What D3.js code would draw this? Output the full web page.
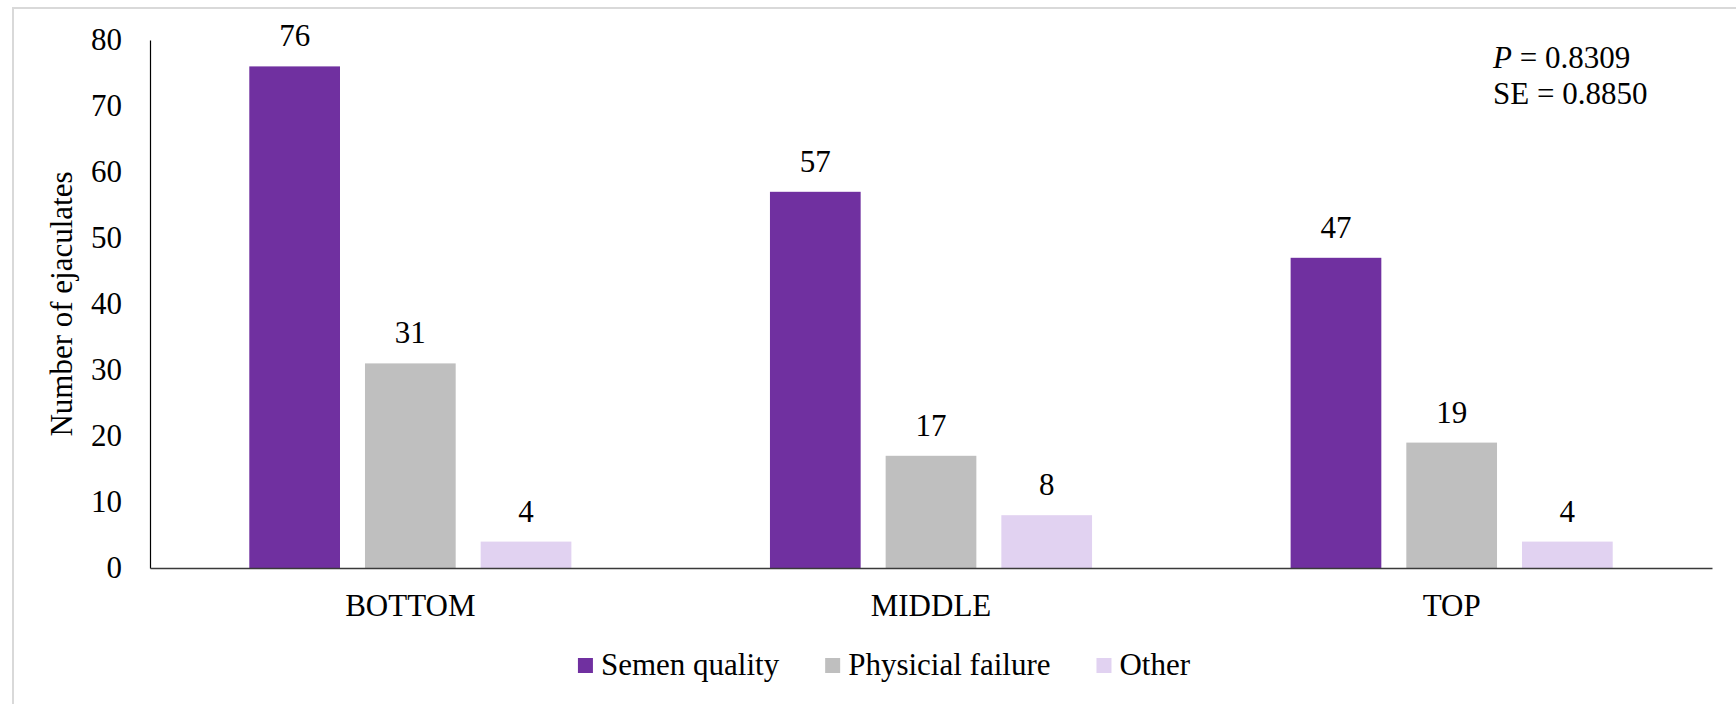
<!DOCTYPE html>
<html>
<head>
<meta charset="utf-8">
<script src="https://cdn.jsdelivr.net/npm/d3@7"></script>
<style>
  html, body { margin: 0; padding: 0; background: #fff; }
  svg { display: block; font-family: "Liberation Serif", "Times New Roman", serif; }
</style>
</head>
<body>
<svg id="chart" width="1736" height="704"></svg>
<script>
// Ejaculate counts by position and cause
const categories = ["BOTTOM", "MIDDLE", "TOP"];
const seriesNames = ["Semen quality", "Physicial failure", "Other"];
const semenQuality = [76, 57, 47];
const physicalFailure = [31, 17, 19];
const other = [4, 8, 4];
const yTicks = [0, 10, 20, 30, 40, 50, 60, 70, 80];
const colors = ["#7030A0", "#BFBFBF", "#E1D2F1"];

const seriesValues = [semenQuality, physicalFailure, other];

const svg = d3.select("#chart");
const m = { left: 150, right: 1712, top: 40, bottom: 568 };
const fontSize = 31;
const serif = "Liberation Serif, Times New Roman, serif";

// Outer chart frame
svg.append("rect")
  .attr("x", 13).attr("y", 8)
  .attr("width", 1742).attr("height", 720)
  .attr("fill", "none").attr("stroke", "#d9d9d9").attr("stroke-width", 2);

const x0 = d3.scaleBand().domain(categories).range([m.left, m.right]).padding(0);
const band = x0.bandwidth();
const barW = band * 0.1742;
const gap = band * 0.048;
const groupW = 3 * barW + 2 * gap;
const x1 = d3.scaleBand().domain(seriesNames)
  .range([(band - groupW) / 2, (band + groupW) / 2])
  .paddingInner(gap / (barW + gap)).paddingOuter(0);

const y = d3.scaleLinear().domain([0, 80]).range([m.bottom, m.top]);

// Bars and value labels
const rows = [];
categories.forEach((c, i) => {
  seriesNames.forEach((s, j) => {
    rows.push({ cat: c, series: s, value: seriesValues[j][i], color: colors[j] });
  });
});

const g = svg.append("g");
g.selectAll("rect.bar").data(rows).join("rect")
  .attr("class", "bar")
  .attr("x", d => x0(d.cat) + x1(d.series))
  .attr("y", d => y(d.value))
  .attr("width", x1.bandwidth())
  .attr("height", d => y(0) - y(d.value))
  .attr("fill", d => d.color);

g.selectAll("text.val").data(rows).join("text")
  .attr("class", "val")
  .attr("x", d => x0(d.cat) + x1(d.series) + x1.bandwidth() / 2)
  .attr("y", d => y(d.value) - 20)
  .attr("text-anchor", "middle")
  .attr("font-family", serif)
  .attr("font-size", fontSize)
  .attr("fill", "#000")
  .text(d => d.value);

// Y axis
const yAxis = svg.append("g")
  .attr("transform", `translate(${m.left},0)`)
  .call(d3.axisLeft(y).tickValues(yTicks).tickSize(0).tickPadding(28));
yAxis.select(".domain").attr("stroke", "#000").attr("stroke-width", 1.2);
yAxis.selectAll("text")
  .attr("font-family", serif)
  .attr("font-size", fontSize).attr("fill", "#000");

// X axis
const xAxis = svg.append("g")
  .attr("transform", `translate(0,${m.bottom})`)
  .call(d3.axisBottom(x0).tickSize(0).tickPadding(26));
xAxis.select(".domain").attr("stroke", "#3a3a3a").attr("stroke-width", 1.6);
xAxis.selectAll("text")
  .attr("font-family", serif)
  .attr("font-size", fontSize).attr("fill", "#000");

// Y axis title
svg.append("text")
  .attr("transform", `translate(72,${(m.top + m.bottom) / 2}) rotate(-90)`)
  .attr("text-anchor", "middle")
  .attr("font-family", serif)
  .attr("font-size", fontSize)
  .attr("fill", "#000")
  .text("Number of ejaculates");

// Statistics note
const note = svg.append("text").attr("x", 1493).attr("y", 68)
  .attr("font-family", serif).attr("font-size", fontSize).attr("fill", "#000");
note.append("tspan").attr("font-style", "italic").text("P");
note.append("tspan").text(" = 0.8309");
svg.append("text").attr("x", 1493).attr("y", 104)
  .attr("font-family", serif).attr("font-size", fontSize).attr("fill", "#000")
  .text("SE = 0.8850");

// Legend
const legend = svg.append("g");
const sq = 15, sqGap = 8, itemGap = 46;
let cursor = 0;
seriesNames.forEach((s, j) => {
  const it = legend.append("g");
  it.append("rect").attr("x", 0).attr("y", -17).attr("width", sq).attr("height", sq)
    .attr("fill", colors[j]);
  const t = it.append("text").attr("x", sq + sqGap).attr("y", 0)
    .attr("font-family", serif).attr("font-size", fontSize).attr("fill", "#000").text(s);
  const w = sq + sqGap + t.node().getComputedTextLength();
  it.attr("transform", `translate(${cursor},0)`);
  cursor += w + itemGap;
});
const legendW = cursor - itemGap;
legend.attr("transform", `translate(${884 - legendW / 2},675)`);
</script>
</body>
</html>
